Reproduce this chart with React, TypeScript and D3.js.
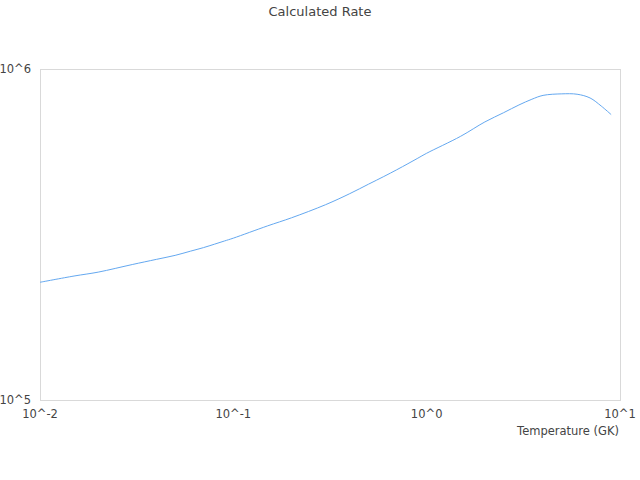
import React, { useEffect, useRef } from "react";
import * as d3 from "d3";

// temperature in GK
const temperatures = [
  0.01, 0.015, 0.02, 0.03, 0.04, 0.05, 0.06, 0.07, 0.08, 0.09, 0.1, 0.15, 0.2,
  0.3, 0.4, 0.5, 0.6, 0.7, 0.8, 0.9, 1, 1.5, 2, 2.5, 3, 3.5, 4, 5, 6, 7, 8, 9,
];

const rates = [
  226800, 236900, 243400, 256600, 266000, 273500, 281600, 288600, 295700,
  302300, 308300, 335600, 355200, 389100, 420100, 448700, 473300, 496100,
  517500, 537700, 556500, 626300, 692000, 737900, 778600, 810200, 832300,
  841200, 839000, 817500, 772700, 728300,
];

const xTicks = [0.01, 0.1, 1, 10];
const yTicks = [1e5, 1e6];

const tickLabel = (v: number) => `10^${Math.round(Math.log10(v))}`;

const App: React.FC = () => {
  const ref = useRef<SVGSVGElement | null>(null);

  useEffect(() => {
    const svg = d3.select(ref.current);
    svg.selectAll("*").remove();

    const width = 640;
    const height = 480;
    const margin = { top: 69, right: 20, bottom: 80, left: 40 };
    const font = "'DejaVu Sans', sans-serif";

    const x = d3
      .scaleLog()
      .domain([0.01, 10])
      .range([margin.left, width - margin.right]);
    const y = d3
      .scaleLog()
      .domain([1e5, 1e6])
      .range([height - margin.bottom, margin.top]);

    // frame
    svg
      .append("rect")
      .attr("x", margin.left + 0.5)
      .attr("y", margin.top + 0.5)
      .attr("width", width - margin.left - margin.right)
      .attr("height", height - margin.bottom - margin.top)
      .attr("fill", "none")
      .attr("stroke", "#d9d9d9");

    // x tick labels
    svg
      .append("g")
      .selectAll("text")
      .data(xTicks)
      .join("text")
      .attr("x", (d) => x(d))
      .attr("y", height - margin.bottom + 18)
      .attr("text-anchor", "middle")
      .style("font-family", font)
      .style("font-size", "11.5px")
      .attr("fill", "#444")
      .text(tickLabel);

    // y tick labels
    svg
      .append("g")
      .selectAll("text")
      .data(yTicks)
      .join("text")
      .attr("x", margin.left - 9)
      .attr("y", (d) => y(d) + 4)
      .attr("text-anchor", "end")
      .style("font-family", font)
      .style("font-size", "11.5px")
      .attr("fill", "#444")
      .text(tickLabel);

    // axis title
    svg
      .append("text")
      .attr("x", width - margin.right - 1)
      .attr("y", height - margin.bottom + 35)
      .attr("text-anchor", "end")
      .style("font-family", font)
      .style("font-size", "11.5px")
      .attr("fill", "#444")
      .text("Temperature (GK)");

    // chart title
    svg
      .append("text")
      .attr("x", width / 2)
      .attr("y", 16)
      .attr("text-anchor", "middle")
      .style("font-family", font)
      .style("font-size", "13px")
      .attr("fill", "#444")
      .text("Calculated Rate");

    const line = d3
      .line<number>()
      .x((d, i) => x(temperatures[i]))
      .y((d) => y(d))
      .curve(d3.curveCatmullRom);

    svg
      .append("path")
      .datum(rates)
      .attr("d", line)
      .attr("fill", "none")
      .attr("stroke", "#64a8f0")
      .attr("stroke-width", 1);
  }, []);

  return (
    <svg
      ref={ref}
      width={640}
      height={480}
      style={{ position: "absolute", left: 0, top: 0 }}
    />
  );
};

export default App;
